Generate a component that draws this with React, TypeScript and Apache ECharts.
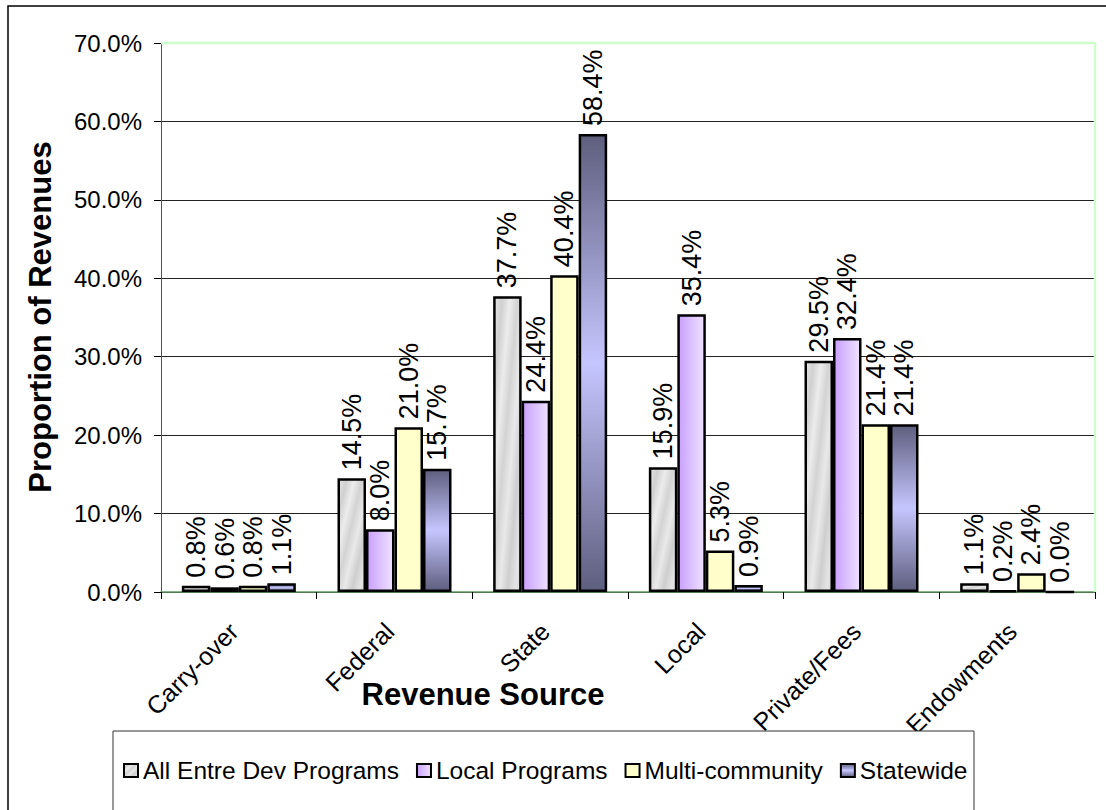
import React, { useEffect, useRef } from 'react';
import * as echarts from 'echarts';

const categories = ['Carry-over', 'Federal', 'State', 'Local', 'Private/Fees', 'Endowments'];
const seriesNames = ['All Entre Dev Programs', 'Local Programs', 'Multi-community', 'Statewide'];
const allEntre = [0.8, 14.5, 37.7, 15.9, 29.5, 1.1];
const localPrograms = [0.6, 8.0, 24.4, 35.4, 32.4, 0.2];
const multiCommunity = [0.8, 21.0, 40.4, 5.3, 21.4, 2.4];
const statewide = [1.1, 15.7, 58.4, 0.9, 21.4, 0.0];
const yMin = 0;
const yMax = 70;
const yInterval = 10;
const xTitle = 'Revenue Source';
const yTitle = 'Proportion of Revenues';

const FONT = '"Liberation Sans", Arial, Helvetica, sans-serif';

export default function App() {
  const ref = useRef<HTMLDivElement>(null);

  useEffect(() => {
    if (!ref.current) return;
    const chart = echarts.init(ref.current, null, { renderer: 'svg' });

    const marble = new echarts.graphic.LinearGradient(0, 0, 1, 1, [
      { offset: 0, color: '#e6e6e6' },
      { offset: 0.15, color: '#d0d0d0' },
      { offset: 0.3, color: '#ececec' },
      { offset: 0.45, color: '#d3d3d3' },
      { offset: 0.6, color: '#e9e9e9' },
      { offset: 0.75, color: '#cecece' },
      { offset: 0.9, color: '#e4e4e4' },
      { offset: 1, color: '#d8d8d8' },
    ]);
    const purple = new echarts.graphic.LinearGradient(0, 0, 1, 0, [
      { offset: 0, color: '#c9a0ff' },
      { offset: 1, color: '#efe2ff' },
    ]);
    const yellow = '#ffffcc';
    const slate = new echarts.graphic.LinearGradient(0, 0, 0, 1, [
      { offset: 0, color: '#5e5e7e' },
      { offset: 0.5, color: '#c6c6ff' },
      { offset: 1, color: '#5e5e7e' },
    ]);

    const dataSets = [allEntre, localPrograms, multiCommunity, statewide];
    const fills: any[] = [marble, purple, yellow, slate];

    const series = dataSets.map((d, i) => ({
      name: seriesNames[i],
      type: 'bar',
      data: d,
      barWidth: 28.5,
      barGap: '0%',
      itemStyle: { color: fills[i], borderColor: '#000', borderWidth: 2.5 },
      label: {
        show: true,
        position: 'top',
        rotate: 90,
        align: 'left',
        verticalAlign: 'middle',
        distance: 8,
        fontSize: 27,
        fontFamily: FONT,
        color: '#000',
        formatter: (p: any) => Number(p.value).toFixed(1) + '%',
      },
    }));

    chart.setOption({
      animation: false,
      backgroundColor: '#fff',
      grid: { left: 161, right: 11, top: 43, bottom: 218, containLabel: false },
      legend: {
        data: seriesNames,
        left: 123,
        top: 758,
        padding: 0,
        z: 60,
        itemWidth: 14,
        itemHeight: 13,
        itemGap: 17,
        icon: 'rect',
        itemStyle: { borderColor: '#000', borderWidth: 2 },
        textStyle: { fontSize: 24.5, fontFamily: FONT, color: '#000' },
      },
      xAxis: {
        type: 'category',
        data: categories,
        axisLine: { show: true, lineStyle: { color: '#5f9a5f', width: 1.5 } },
        axisTick: { show: true, length: 7, lineStyle: { color: '#000' } },
        axisLabel: {
          rotate: 45,
          interval: 0,
          fontSize: 25,
          fontFamily: FONT,
          color: '#000',
          margin: 30,
          padding: [0, 7, 14, 0],
        },
        splitLine: { show: false },
      },
      yAxis: {
        type: 'value',
        min: yMin,
        max: yMax,
        interval: yInterval,
        axisLine: { show: true, lineStyle: { color: '#2e6b2e', width: 1 } },
        axisTick: { show: true, length: 7, lineStyle: { color: '#000' } },
        axisLabel: {
          fontSize: 24,
          fontFamily: FONT,
          color: '#000',
          margin: 19,
          formatter: (v: number) => v.toFixed(1) + '%',
        },
        splitLine: { show: true, lineStyle: { color: '#222', width: 1 } },
      },
      graphic: [
        {
          type: 'rect',
          silent: true,
          shape: { x: 8, y: 6, width: 1120, height: 840 },
          style: { fill: 'none', stroke: '#000', lineWidth: 1.5 },
          z: 50,
        },
        {
          type: 'rect',
          silent: true,
          shape: { x: 113, y: 731, width: 861, height: 130 },
          style: { fill: '#fff', stroke: '#333', lineWidth: 1 },
          z: 50,
        },
        {
          type: 'polyline',
          silent: true,
          shape: { points: [[161, 43], [1095, 43], [1095, 592]] },
          style: { fill: 'none', stroke: '#ccffcc', lineWidth: 2.5 },
          z: 100,
        },
        {
          type: 'text',
          silent: true,
          x: 483,
          y: 694,
          style: {
            text: xTitle,
            font: `bold 31px ${FONT}`,
            fill: '#000',
            align: 'center',
            verticalAlign: 'middle',
          },
          z: 100,
        },
        {
          type: 'text',
          silent: true,
          x: 40,
          y: 317,
          rotation: Math.PI / 2,
          style: {
            text: yTitle,
            font: `bold 31px ${FONT}`,
            fill: '#000',
            align: 'center',
            verticalAlign: 'middle',
          },
          z: 100,
        },
      ],
      series,
    });

    return () => chart.dispose();
  }, []);

  return (
    <div
      ref={ref}
      style={{ position: 'fixed', left: 0, top: 0, width: 1106, height: 810, background: '#fff' }}
    />
  );
}
